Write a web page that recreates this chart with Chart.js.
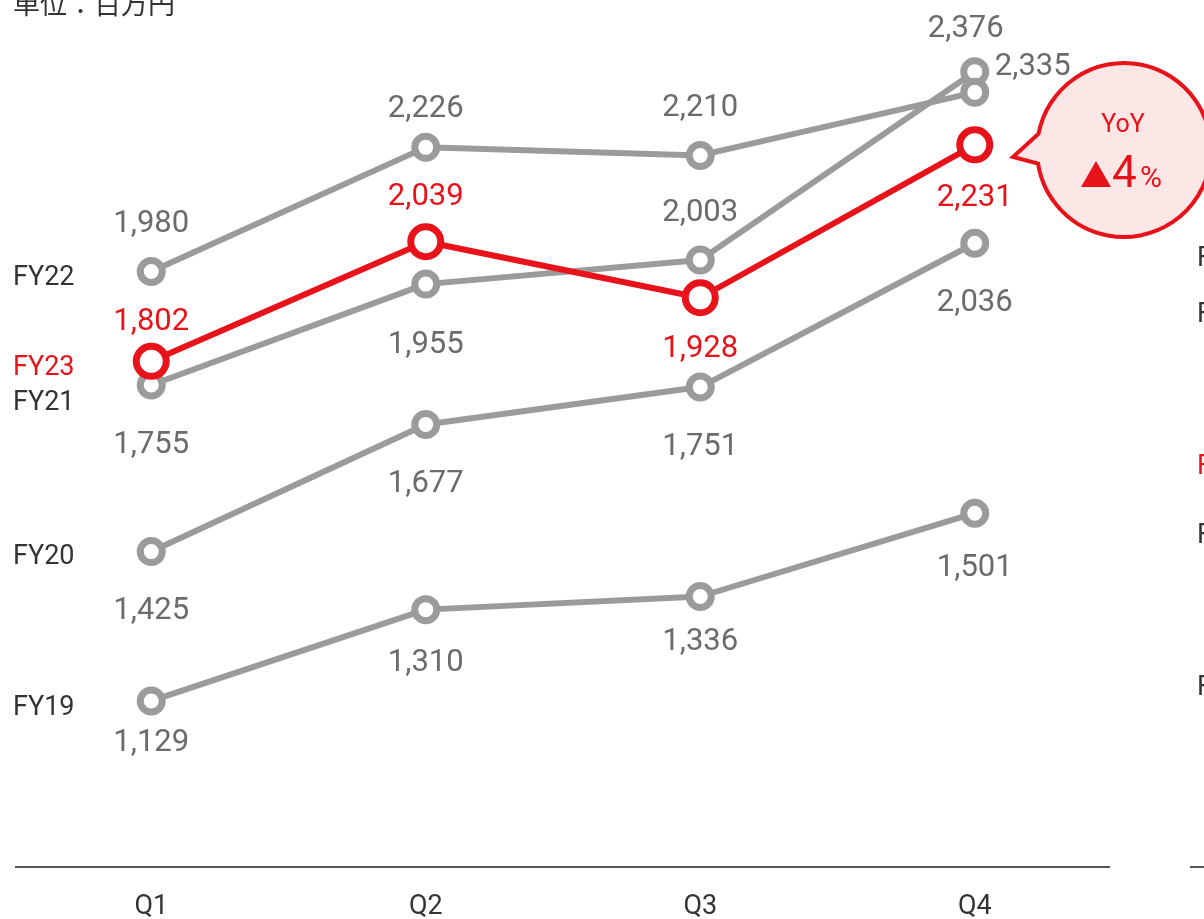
<!DOCTYPE html>
<html lang="ja">
<head>
  <meta charset="UTF-8" />
  <title>四半期推移</title>
  <style>
    html, body { margin: 0; padding: 0; background: #fff; overflow: hidden; }
    #wrap { width: 1204px; height: 919px; }
  </style>
</head>
<body>
  <div id="wrap"><canvas id="chart" width="1204" height="919"></canvas></div>

  <script src="https://cdn.jsdelivr.net/npm/chart.js"></script>
  <script>
    const quarters = ['Q1', 'Q2', 'Q3', 'Q4'];
    const fy19 = [1129, 1310, 1336, 1501];
    const fy20 = [1425, 1677, 1751, 2036];
    const fy21 = [1755, 1955, 2003, 2376];
    const fy22 = [1980, 2226, 2210, 2335];
    const fy23 = [1802, 2039, 1928, 2231];
    const unitLabel = '単位：百万円';
    const yoyText = 'YoY';
    const yoyValue = '4';

    const RED = '#e8131a';
    const GRAY = '#9b9b9b';
    const LABEL_GRAY = '#6b6b6b';
    const DARK = '#333333';
    const FONT = 'Roboto, "Noto Sans CJK JP", sans-serif';

    function grayLine(name, data, dy, dx, nameDy, sideY) {
      return {
        label: name, data,
        borderColor: GRAY, borderWidth: 6,
        pointRadius: 11, pointBorderWidth: 7,
        pointBackgroundColor: '#fff', pointBorderColor: GRAY,
        tension: 0, order: 1,
        labelColor: LABEL_GRAY, labelDy: dy, labelDx: dx || [0, 0, 0, 0],
        nameColor: DARK, nameDy, sideY
      };
    }

    const datasets = [
      {
        label: 'FY23', data: fy23,
        borderColor: RED, borderWidth: 6,
        pointRadius: 15, pointBorderWidth: 7,
        pointBackgroundColor: '#fff', pointBorderColor: RED,
        tension: 0, order: 0,
        labelColor: RED, labelDy: [-39, -44, 52, 53], labelDx: [0, 0, 0, 0],
        nameColor: RED, nameDy: 7, sideY: 467
      },
      grayLine('FY22', fy22, [-47, -38, -47, -25], [0, 0, 0, 58], 7, 259),
      grayLine('FY21', fy21, [60, 61, -47, -42], [0, 0, 0, -9], 18, 315),
      grayLine('FY20', fy20, [60, 60, 60, 60], null, 6, 536),
      grayLine('FY19', fy19, [42, 54, 46, 55], null, 7, 688)
    ];

    const overlay = {
      id: 'overlay',
      afterDatasetsDraw(chart) {
        const ctx = chart.ctx;
        const x = chart.scales.x;
        const area = chart.chartArea;
        ctx.save();
        ctx.textBaseline = 'middle';

        // value labels
        ctx.font = '31px ' + FONT;
        ctx.textAlign = 'center';
        chart.data.datasets.forEach((ds, i) => {
          const meta = chart.getDatasetMeta(i);
          meta.data.forEach((pt, j) => {
            ctx.fillStyle = ds.labelColor;
            ctx.fillText(ds.data[j].toLocaleString('en-US'), pt.x + ds.labelDx[j], pt.y + ds.labelDy[j]);
          });
        });

        // series names at the left, and the cut-off panel at the right
        ctx.font = '27px ' + FONT;
        ctx.textAlign = 'left';
        chart.data.datasets.forEach((ds, i) => {
          const pt = chart.getDatasetMeta(i).data[0];
          ctx.fillStyle = ds.nameColor;
          ctx.fillText(ds.label, 13, pt.y + ds.nameDy);
          ctx.fillText(ds.label, 1197, ds.sideY);
        });

        // axis line and quarter labels
        ctx.strokeStyle = '#555';
        ctx.lineWidth = 2;
        ctx.beginPath();
        ctx.moveTo(15, area.bottom);
        ctx.lineTo(1110, area.bottom);
        ctx.moveTo(1190, area.bottom);
        ctx.lineTo(1204, area.bottom);
        ctx.stroke();
        ctx.fillStyle = DARK;
        ctx.textAlign = 'center';
        quarters.forEach((q, j) => ctx.fillText(q, x.getPixelForValue(j), area.bottom + 40));

        // unit label, partly above the top edge
        ctx.textAlign = 'left';
        ctx.textBaseline = 'alphabetic';
        ctx.font = '27px ' + FONT;
        ctx.fillStyle = DARK;
        ctx.fillText(unitLabel, 13, 14);

        // YoY bubble
        const cx = 1124, cy = 150, r = 87;
        ctx.beginPath();
        ctx.arc(cx, cy, r, Math.PI * 1.06, Math.PI * 0.95, false);
        ctx.lineTo(1013, 157);
        ctx.closePath();
        ctx.fillStyle = '#fde6e6';
        ctx.fill();
        ctx.strokeStyle = RED;
        ctx.lineWidth = 4;
        ctx.stroke();

        ctx.fillStyle = RED;
        ctx.textAlign = 'center';
        ctx.textBaseline = 'middle';
        ctx.font = '25px ' + FONT;
        ctx.fillText(yoyText, 1123, 126);
        // ▲ 4 %
        ctx.textBaseline = 'alphabetic';
        ctx.textAlign = 'left';
        ctx.font = '32px ' + FONT;
        ctx.fillText('▲', 1080, 187);
        ctx.font = '44px ' + FONT;
        ctx.fillText(yoyValue, 1112, 187);
        ctx.font = '30px ' + FONT;
        ctx.fillText('%', 1140, 187);
        ctx.restore();
      }
    };

    new Chart(document.getElementById('chart'), {
      type: 'line',
      data: { labels: quarters, datasets },
      options: {
        responsive: false,
        animation: false,
        layout: { autoPadding: false, padding: { left: 14, right: 92, top: 0, bottom: 52 } },
        plugins: { legend: { display: false }, tooltip: { enabled: false } },
        scales: {
          x: { display: false, offset: true },
          y: { display: false, min: 800, max: 2518 }
        },
        elements: { line: { borderCapStyle: 'round', borderJoinStyle: 'round' } },
        clip: false
      },
      plugins: [overlay]
    });
  </script>
</body>
</html>
